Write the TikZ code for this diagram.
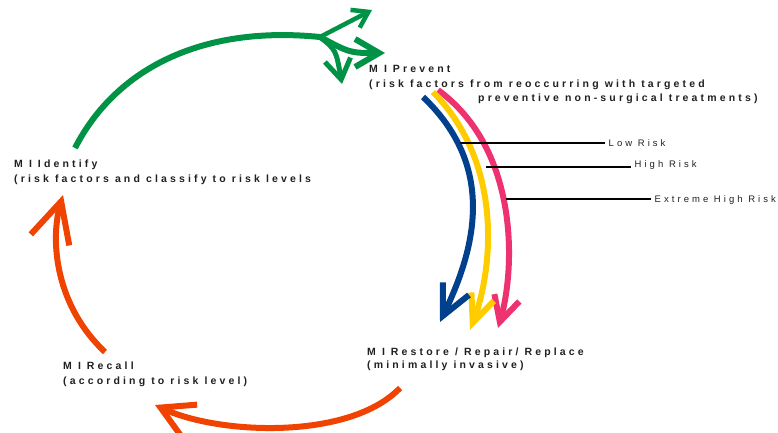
\documentclass[tikz,border=0pt]{standalone}
\usepackage{fontspec}
\usepackage{xcolor}
\usepackage{tikz}
\usetikzlibrary{arrows.meta}
\setmainfont{Liberation Sans}
\newfontfamily\stagefont[LetterSpace=30]{Liberation Sans}
\newfontfamily\riskfont[LetterSpace=32]{Liberation Sans}
\definecolor{cyclegreen}{RGB}{0, 146, 69}
\definecolor{cycleorange}{RGB}{240, 66, 0}
\definecolor{riskblue}{RGB}{0, 64, 140}
\definecolor{riskyellow}{RGB}{255, 204, 0}
\definecolor{riskpink}{RGB}{238, 50, 112}
\definecolor{labelgray}{RGB}{35, 31, 32}

\begin{document}
\begin{tikzpicture}[x=1pt, y=-1pt,
    stage/.style={anchor=base west, inner sep=0pt, align=left, text=labelgray,
        font=\stagefont\bfseries\fontsize{10.5}{15}\selectfont},
    risk/.style={anchor=base west, inner xsep=3.5pt, inner ysep=0pt, text=labelgray,
        font=\riskfont\fontsize{9.5}{10}\selectfont},
    cyclearrow/.style={line width=6pt},
    leader/.style={line width=1.6pt, black}]
    \useasboundingbox (0,0) rectangle (778,433);

    % Stage labels (placed at the baseline of their last line)
    \node[stage] (prevent) at (369,102) {M I Prevent\\
        (risk factors from reoccurring with targeted\\[-1pt]
        \hspace*{109pt}preventive non-surgical treatments)};
    \node[stage] (identify) at (14,182) {M I Identify\\
        (risk factors and classify to risk levels};
    \node[stage] (recall) at (63,384) {M I Recall\\
        (according to risk level)};
    \node[stage] (restore) at (367,368) {M I Restore / Repair/ Replace\\[-2pt]
        (minimally invasive)};

    % Arrow end points
    \coordinate (identifyout) at (75,148);
    \coordinate (greenfork) at (320,37);
    \coordinate (preventtip) at (385,53);
    \coordinate (uppertip) at (372,10);
    \coordinate (lowertip) at (342,84);
    \coordinate (recallout) at (105,352);
    \coordinate (identifytip) at (63,195);
    \coordinate (restoreout) at (400,388);
    \coordinate (recalltip) at (155,405);

    % Green arrow - Identify to Prevent
    \draw[cyclearrow, cyclegreen, -{Straight Barb[length=24pt,width=28pt]}]
        (identifyout) .. controls (115,70) and (200,25) .. (greenfork)
        .. controls (350,53) .. (preventtip);
    \draw[cyclegreen, line width=4.5pt, -{Straight Barb[length=15pt,width=20pt]}]
        (greenfork) -- (uppertip);
    \draw[cyclegreen, line width=5pt, -{Straight Barb[length=20pt,width=26pt]}]
        (greenfork) .. controls (336,50) .. (lowertip);

    % Orange arrows - Restore to Recall to Identify
    \draw[cyclearrow, cycleorange, -{Straight Barb[length=32pt,width=36pt]}]
        (restoreout) .. controls (350,440) and (220,435) .. (recalltip);
    \draw[cyclearrow, cycleorange, -{Straight Barb[length=40pt,width=40pt]}]
        (recallout) .. controls (55,305) and (50,240) .. (identifytip);

    % Risk arrows - Prevent to Restore
    \coordinate (pinkout) at (438,90);
    \coordinate (pinktip) at (498,328);
    \coordinate (yellowout) at (433,92);
    \coordinate (yellowtip) at (470,330);
    \coordinate (blueout) at (423,97);
    \coordinate (bluetip) at (440,322);
    \draw[cyclearrow, riskpink, -{Straight Barb[length=25pt,width=26pt]}]
        (pinkout) .. controls (520,150) and (515,270) .. (pinktip);
    \draw[cyclearrow, riskyellow, -{Straight Barb[length=28pt,width=24pt]}]
        (yellowout) .. controls (505,165) and (492,272) .. (yellowtip);
    \draw[cyclearrow, riskblue, -{Straight Barb[length=30pt,width=29pt]}]
        (blueout) .. controls (500,170) and (472,255) .. (bluetip);

    % Risk labels
    \node[risk] (lowlabel) at (605,146) {Low Risk};
    \node[risk] (highlabel) at (631,167) {High Risk};
    \node[risk] (extremelabel) at (651,202) {Extreme High Risk};
    \coordinate (lowpin) at (460,143);
    \coordinate (highpin) at (486,167);
    \coordinate (extremepin) at (506,199);
    \draw[leader] (lowpin) -- (lowpin -| lowlabel.west);
    \draw[leader] (highpin) -- (highpin -| highlabel.west);
    \draw[leader] (extremepin) -- (extremepin -| extremelabel.west);
\end{tikzpicture}
\end{document}
